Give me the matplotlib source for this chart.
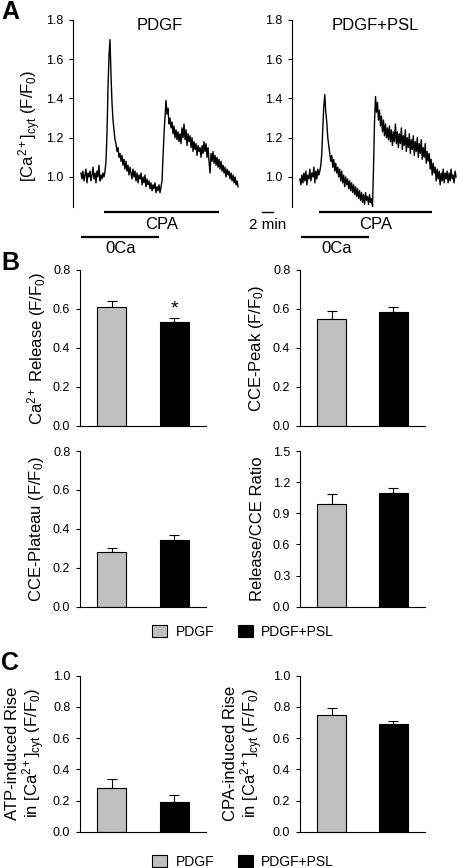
import numpy as np
import matplotlib
matplotlib.use("Agg")
import matplotlib.pyplot as plt
from matplotlib.patches import Patch

plt.rcParams['font.family'] = ['Liberation Sans', 'DejaVu Sans']
plt.rcParams['mathtext.fontset'] = 'custom'
plt.rcParams['mathtext.rm'] = 'Liberation Sans'
plt.rcParams['mathtext.it'] = 'Liberation Sans:italic'
plt.rcParams['mathtext.bf'] = 'Liberation Sans:bold'

# ---------------- data ----------------
sample_interval_min = 2.0 / 11.0  # one sample per trace column

trace_pdgf = [
    1.02, 0.99, 1.03, 0.98, 1.01, 1.04, 0.97, 1.02, 1.00, 1.03,
    0.98, 1.01, 1.05, 0.99, 1.02, 0.97, 1.03, 1.00, 1.06, 0.98,
    1.01, 0.99, 1.02, 1.00, 1.03, 1.08, 1.22, 1.45, 1.62, 1.70,
    1.52, 1.38, 1.29, 1.24, 1.19, 1.17, 1.13, 1.15, 1.10, 1.12,
    1.08, 1.11, 1.06, 1.09, 1.04, 1.08, 1.03, 1.06, 1.01, 1.05,
    1.02, 0.99, 1.04, 1.00, 1.03, 0.98, 1.02, 0.97, 1.01, 0.99,
    1.02, 0.96, 1.00, 0.97, 1.01, 0.95, 0.99, 0.96, 0.98, 0.94,
    0.97, 0.93, 0.96, 0.94, 0.97, 0.92, 0.95, 0.93, 0.96, 0.92,
    0.95, 0.98, 1.10, 1.22, 1.31, 1.39, 1.32, 1.35, 1.27, 1.30,
    1.25, 1.28, 1.22, 1.26, 1.20, 1.24, 1.19, 1.23, 1.18, 1.22,
    1.17, 1.25, 1.20, 1.27, 1.19, 1.24, 1.16, 1.22, 1.18, 1.21,
    1.15, 1.20, 1.13, 1.18, 1.14, 1.17, 1.11, 1.16, 1.13, 1.15,
    1.10, 1.16, 1.12, 1.18, 1.13, 1.17, 1.10, 1.15, 1.08, 1.02,
    1.12, 1.08, 1.13, 1.07, 1.11, 1.06, 1.10, 1.05, 1.09, 1.04,
    1.08, 1.03, 1.06, 1.02, 1.05, 1.00, 1.04, 1.01, 1.03, 0.99,
    1.02, 0.98, 1.01, 0.97, 1.00, 0.96, 0.98, 0.95,
]

trace_pdgf_psl = [
    0.99, 0.96, 1.01, 0.97, 1.02, 0.98, 1.03, 0.96, 1.01, 0.99,
    1.04, 0.98, 1.02, 1.00, 1.05, 0.97, 1.03, 0.99, 1.04, 1.01,
    1.03, 1.06, 1.12, 1.25, 1.36, 1.42, 1.33, 1.28, 1.20, 1.16,
    1.12, 1.08, 1.11, 1.05, 1.09, 1.03, 1.07, 1.02, 1.05, 1.00,
    1.04, 0.98, 1.03, 0.97, 1.01, 0.95, 1.00, 0.96, 0.99, 0.94,
    0.98, 0.93, 0.97, 0.92, 0.96, 0.91, 0.95, 0.90, 0.94, 0.89,
    0.93, 0.88, 0.92, 0.87, 0.91, 0.86, 0.92, 0.88, 0.90, 0.86,
    0.91, 0.87, 0.89, 0.85, 1.05, 1.28, 1.41, 1.33, 1.38, 1.29,
    1.34, 1.26, 1.31, 1.23, 1.29, 1.21, 1.27, 1.20, 1.25, 1.19,
    1.26, 1.18, 1.24, 1.16, 1.23, 1.18, 1.27, 1.17, 1.23, 1.15,
    1.22, 1.17, 1.25, 1.14, 1.21, 1.16, 1.24, 1.13, 1.20, 1.15,
    1.22, 1.12, 1.19, 1.14, 1.21, 1.11, 1.18, 1.13, 1.20, 1.10,
    1.17, 1.12, 1.19, 1.09, 1.15, 1.10, 1.17, 1.07, 1.13, 1.08,
    1.12, 1.04, 1.09, 1.01, 1.07, 1.02, 1.05, 0.98, 1.04, 0.99,
    1.03, 0.96, 1.02, 0.98, 1.04, 0.97, 1.02, 0.99, 1.03, 0.97,
    1.02, 0.98, 1.04, 0.99, 1.01, 0.97, 1.03, 1.00,
]

trace_titles = ["PDGF", "PDGF+PSL"]
# application periods (min): (start, end)
cpa_periods = [(4.2, 25.1), (3.5, 24.2)]
zero_ca_periods = [(0.0, 14.2), (0.2, 12.7)]

groups = ["PDGF", "PDGF+PSL"]
bar_colors = ["#c0c0c0", "#000000"]

release_mean = [0.61, 0.535]
release_err = [0.03, 0.02]
cce_peak_mean = [0.55, 0.582]
cce_peak_err = [0.04, 0.028]
cce_plateau_mean = [0.283, 0.341]
cce_plateau_err = [0.019, 0.027]
ratio_mean = [0.99, 1.10]
ratio_err = [0.10, 0.04]
atp_mean = [0.28, 0.193]
atp_err = [0.055, 0.04]
cpa_mean = [0.748, 0.69]
cpa_err = [0.047, 0.02]

# ---------------- figure ----------------
W, H = 458, 868
fig = plt.figure(figsize=(W / 100, H / 100), dpi=100)


def px_axes(x0, y0, x1, y1):
    return fig.add_axes([x0 / W, 1 - y1 / H, (x1 - x0) / W, (y1 - y0) / H])


def ftext(x, y, s, **kw):
    fig.text(x / W, 1 - y / H, s, **kw)


TICK = 9
LAB = 12
BIG = 12

# ---- Panel A ----
traces = [trace_pdgf, trace_pdgf_psl]
a_axes = [px_axes(73, 20, 240, 207), px_axes(292, 20, 458, 207)]
title_x = [160, 375]
for i, ax in enumerate(a_axes):
    y = np.array(traces[i])
    t = np.arange(len(y)) * sample_interval_min
    ax.plot(t, y, color="black", lw=1.0)
    ax.set_xlim(-1.45, 28.9)
    ax.set_ylim(0.847, 1.8)
    for s in ["top", "right", "bottom"]:
        ax.spines[s].set_visible(False)
    ax.spines["left"].set_linewidth(0.8)
    ax.set_xticks([])
    ax.set_yticks([1.0, 1.2, 1.4, 1.6, 1.8])
    ax.set_yticklabels(["1.0", "1.2", "1.4", "1.6", "1.8"])
    ax.tick_params(axis="y", direction="out", length=3, width=0.8,
                   labelsize=TICK, pad=4)
    ftext(title_x[i], 25, trace_titles[i], ha="center", va="center",
          fontsize=BIG)
    c0, c1 = cpa_periods[i]
    z0, z1 = zero_ca_periods[i]
    ax.plot([c0, c1], [0.821, 0.821], color="black", lw=1.6, clip_on=False,
            solid_capstyle="butt")
    ax.text((c0 + c1) / 2, 0.757, "CPA", ha="center", va="center",
            fontsize=BIG)
    ax.plot([z0, z1], [0.694, 0.694], color="black", lw=1.6, clip_on=False,
            solid_capstyle="butt")
    ax.text((z0 + z1) / 2 + 0.2, 0.637, "0Ca", ha="center", va="center",
            fontsize=BIG)

# 2 min scale bar
ax0 = a_axes[0]
ax0.plot([32.9, 34.9], [0.821, 0.821], color="black", lw=1.0, clip_on=False)
ax0.text(33.9, 0.757, "2 min", ha="center", va="center", fontsize=11)

ftext(30, 126, "[Ca$^{2+}$]$_{\\mathregular{cyt}}$ (F/F$_0$)", rotation=90,
      ha="center", va="center", fontsize=LAB)


# ---- bar panels ----
def bar_panel(box, means, errs, ylim, yticks, fmt="%.1f"):
    ax = px_axes(*box)
    xs = np.arange(len(means))
    ax.bar(xs, means, width=0.46, color=bar_colors, edgecolor="black",
           linewidth=0.8, zorder=2)
    for x, m, e in zip(xs, means, errs):
        ax.errorbar([x], [m], yerr=[[0], [e]], fmt="none", ecolor="black",
                    elinewidth=0.8, capsize=3.5, capthick=0.8, zorder=1)
    ax.set_xlim(-0.51, 1.51)
    ax.set_ylim(*ylim)
    ax.set_yticks(yticks)
    ax.set_yticklabels([fmt % v for v in yticks])
    ax.set_xticks([])
    for s in ["top", "right"]:
        ax.spines[s].set_visible(False)
    for s in ["left", "bottom"]:
        ax.spines[s].set_linewidth(0.8)
    ax.tick_params(axis="y", direction="out", length=3, width=0.8,
                   labelsize=TICK, pad=4)
    return ax


r1 = 270, 425.7
r2 = 451, 606.7
r3 = 675.7, 831.7
L = (80, 206)
R = (300, 425)
t08 = [0.0, 0.2, 0.4, 0.6, 0.8]

b1 = bar_panel((L[0], r1[0], L[1], r1[1]), release_mean, release_err, (0, 0.8), t08)
b2 = bar_panel((R[0], r1[0], R[1], r1[1]), cce_peak_mean, cce_peak_err, (0, 0.8), t08)
b3 = bar_panel((L[0], r2[0], L[1], r2[1]), cce_plateau_mean, cce_plateau_err, (0, 0.8), t08)
b4 = bar_panel((R[0], r2[0], R[1], r2[1]), ratio_mean, ratio_err, (0, 1.5),
               [0.0, 0.3, 0.6, 0.9, 1.2, 1.5])
c1 = bar_panel((L[0], r3[0], L[1], r3[1]), atp_mean, atp_err, (0, 1.0),
               [0.0, 0.2, 0.4, 0.6, 0.8, 1.0])
c2 = bar_panel((R[0], r3[0], R[1], r3[1]), cpa_mean, cpa_err, (0, 1.0),
               [0.0, 0.2, 0.4, 0.6, 0.8, 1.0])

b1.text(1, release_mean[1] + release_err[1] + 0.0, "*", ha="center",
        va="bottom", fontsize=14)

ftext(37, 348, "Ca$^{2+}$ Release (F/F$_0$)", rotation=90, ha="center",
      va="center", fontsize=LAB)
ftext(257, 348, "CCE-Peak (F/F$_0$)", rotation=90, ha="center",
      va="center", fontsize=LAB)
ftext(37, 529, "CCE-Plateau (F/F$_0$)", rotation=90, ha="center",
      va="center", fontsize=LAB)
ftext(257, 529, "Release/CCE Ratio", rotation=90, ha="center",
      va="center", fontsize=LAB)
ftext(26, 753, "ATP-induced Rise\nin [Ca$^{2+}$]$_{\\mathregular{cyt}}$ (F/F$_0$)",
      rotation=90, ha="center", va="center", fontsize=LAB, linespacing=1.05)
ftext(244, 753, "CPA-induced Rise\nin [Ca$^{2+}$]$_{\\mathregular{cyt}}$ (F/F$_0$)",
      rotation=90, ha="center", va="center", fontsize=LAB, linespacing=1.05)

# legends
handles = [Patch(facecolor=c, edgecolor="black", linewidth=0.8) for c in bar_colors]
for yc in (632, 862):
    fig.legend(handles, groups, loc="center", bbox_to_anchor=(243 / W, 1 - yc / H),
               ncol=2, frameon=False, fontsize=10, handlelength=1.1,
               handleheight=0.95, handletextpad=0.6, columnspacing=1.7,
               borderpad=0, borderaxespad=0)

# panel letters
ftext(1, 12, "A", fontsize=18, fontweight="bold", va="center", ha="left")
ftext(1, 263, "B", fontsize=18, fontweight="bold", va="center", ha="left")
ftext(1, 663, "C", fontsize=18, fontweight="bold", va="center", ha="left")

fig.savefig("out.png", dpi=100)
